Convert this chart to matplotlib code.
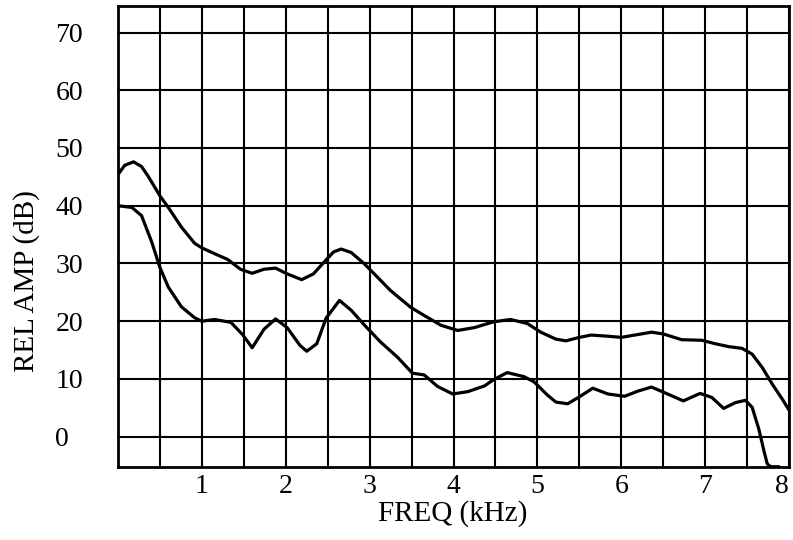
import matplotlib
matplotlib.use("Agg")
import matplotlib.pyplot as plt
import numpy as np

# spectrum envelopes (kHz, dB)
upper_f = [0.0, 0.08, 0.185, 0.28, 0.36, 0.5, 0.6, 0.756, 0.913, 1.0, 1.15, 1.307, 1.46,
           1.6, 1.74, 1.878, 2.016, 2.19, 2.33, 2.48, 2.57, 2.66, 2.78, 2.94, 3.095, 3.25,
           3.49, 3.65, 3.85, 4.05, 4.25, 4.48, 4.68, 4.88, 5.04, 5.22, 5.34, 5.5, 5.64,
           5.84, 6.0, 6.2, 6.36, 6.5, 6.72, 6.96, 7.12, 7.28, 7.44, 7.56, 7.68, 7.8,
           7.92, 8.0]
upper_db = [45.4, 47.0, 47.6, 46.8, 45.1, 41.7, 39.7, 36.3, 33.5, 32.7, 31.7, 30.7, 29.0,
            28.3, 29.0, 29.2, 28.2, 27.2, 28.2, 30.6, 32.0, 32.5, 31.9, 29.9, 27.6, 25.3,
            22.4, 21.0, 19.3, 18.4, 18.9, 19.9, 20.3, 19.6, 18.1, 16.9, 16.6, 17.2, 17.6,
            17.4, 17.2, 17.7, 18.1, 17.8, 16.8, 16.7, 16.1, 15.6, 15.3, 14.3, 12.0, 9.1,
            6.5, 4.6]

lower_f = [0.0, 0.165, 0.28, 0.40, 0.5, 0.6, 0.756, 0.913, 1.0, 1.15, 1.346, 1.484, 1.6,
           1.74, 1.878, 2.016, 2.17, 2.25, 2.37, 2.48, 2.64, 2.78, 2.94, 3.13, 3.33, 3.51,
           3.65, 3.81, 3.99, 4.17, 4.37, 4.48, 4.64, 4.84, 4.96, 5.12, 5.22, 5.36, 5.5,
           5.66, 5.84, 6.04, 6.2, 6.36, 6.52, 6.74, 6.94, 7.08, 7.22, 7.36, 7.48, 7.56,
           7.64, 7.70, 7.74, 7.78, 7.88]
lower_db = [40.0, 39.7, 38.3, 33.8, 29.3, 25.9, 22.5, 20.6, 20.0, 20.3, 19.8, 17.7, 15.4,
            18.6, 20.4, 18.9, 15.8, 14.8, 16.1, 20.5, 23.6, 21.9, 19.3, 16.4, 13.8, 11.0,
            10.7, 8.7, 7.4, 7.8, 8.8, 9.9, 11.1, 10.4, 9.5, 7.2, 6.0, 5.7, 6.9,
            8.4, 7.4, 7.0, 7.9, 8.6, 7.6, 6.2, 7.5, 6.8, 4.9, 5.9, 6.3, 5.1,
            1.3, -2.4, -4.7, -5.2, -5.2]

x_ticks = [1, 2, 3, 4, 5, 6, 7, 8]
y_ticks = [0, 10, 20, 30, 40, 50, 60, 70]

plt.rcParams['font.family'] = ['Liberation Serif', 'DejaVu Serif']

fig = plt.figure(figsize=(7.93, 5.40), dpi=100)
ax = fig.add_axes([0.1488, 0.1357, 0.8462, 0.8533])

# grid: every 0.5 kHz and every 10 dB
for gx in np.arange(0.5, 8.01, 0.5):
    ax.axvline(gx, color='black', lw=1.5, zorder=1)
for gy in y_ticks:
    ax.axhline(gy, color='black', lw=1.5, zorder=1)

ax.plot(upper_f, upper_db, color='black', lw=2.3, zorder=3,
        solid_joinstyle='round', solid_capstyle='round')
ax.plot(lower_f, lower_db, color='black', lw=2.3, zorder=3,
        solid_joinstyle='round', solid_capstyle='round')

ax.set_xlim(0, 8)
ax.set_ylim(-5.2, 74.6)
ax.set_xticks(x_ticks)
ax.set_yticks(y_ticks)
ax.tick_params(length=0, labelsize=20)
ax.tick_params(axis='x', pad=5)
ax.tick_params(axis='y', pad=45)
for lab in ax.get_yticklabels():
    lab.set_horizontalalignment('left')
ax.get_xticklabels()[-1].set_horizontalalignment('right')

for s in ax.spines.values():
    s.set_linewidth(2)
    s.set_color('black')

fig.text(453 / 793, 1 - 514 / 540, 'FREQ (kHz)', ha='center', va='center', fontsize=21)
fig.text(27 / 793, 1 - 281 / 540, 'REL AMP (dB)', ha='center', va='center',
         rotation=90, fontsize=21)

fig.savefig('out.png', dpi=100)
